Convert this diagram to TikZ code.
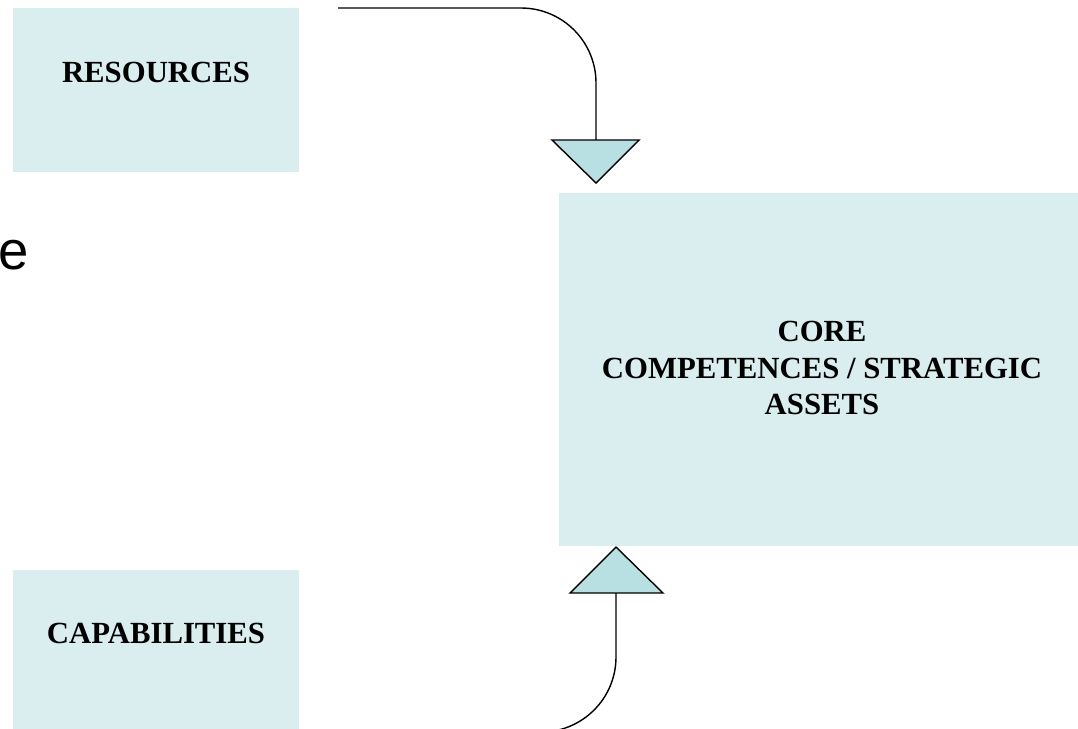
\documentclass[tikz,border=0pt]{standalone}
\usepackage{fontspec}
\setmainfont{Liberation Serif}
\newfontfamily\strayfont{Liberation Sans}
\definecolor{boxblue}{RGB}{218,237,239}
\definecolor{triblue}{RGB}{184,223,226}
\begin{document}
\begin{tikzpicture}
        [x=0.02cm, y=-0.02cm,
        box/.style={fill=boxblue, inner sep=0pt, minimum width=5.72cm, minimum height=3.28cm},
        lbl/.style={font=\fontsize{17.5}{21}\selectfont\bfseries, align=center, inner sep=0pt},
        tri/.style={draw=black, thick, fill=triblue, line join=miter},
        link/.style={thick, black, rounded corners=1.5cm}]

        \useasboundingbox (0,0) rectangle (1078,728);

        % boxes
        \node[box] (res) at (156,90) {};
        \node[box] (cap) at (156,652) {};
        \node[box, minimum width=10.52cm, minimum height=7.06cm] (core) at (822,369.5) {};

        % labels
        \node[lbl] (reslbl) at (156,72) {RESOURCES};
        \node[lbl] (caplbl) at (156,633) {CAPABILITIES};
        \node[lbl] (corelbl) at (822,368) {CORE\\COMPETENCES / STRATEGIC\\ASSETS};

        % stray letter at the left edge
        \node[font=\strayfont\fontsize{31}{31}\selectfont, inner sep=0pt, anchor=base west] (ee) at (-1.5,269) {e};

        % connector ends
        \coordinate (topstart) at (338,8);
        \coordinate (topin) at (596,140);
        \coordinate (botstart) at (338,732);
        \coordinate (botin) at (616,593);

        % connectors
        \draw[link] (topstart) -| (topin);
        \draw[link] (botstart) -| (botin);

        % arrow heads
        \draw[tri] (552,140) -- (639,140) -- (596,183) -- cycle;
        \draw[tri] (570,593) -- (663,593) -- (616,547) -- cycle;

        \end{tikzpicture}
\end{document}
